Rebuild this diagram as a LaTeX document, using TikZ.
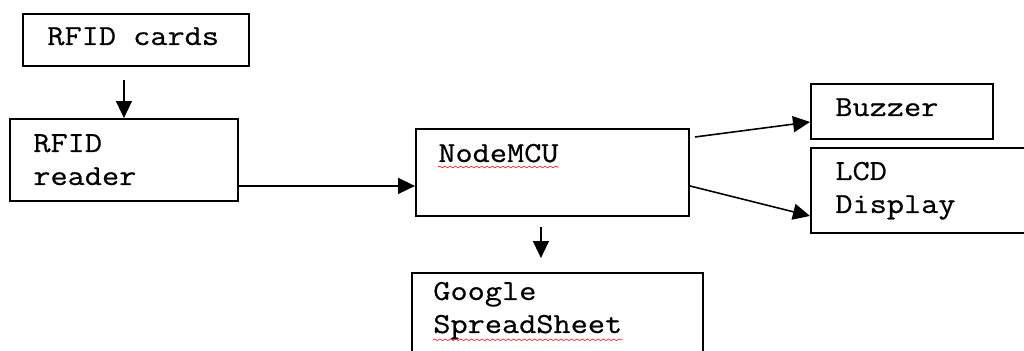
\documentclass[tikz,border=0pt]{standalone}
\usepackage{fontspec}
\setmonofont[FakeStretch=1.15, FakeBold=0.6]{Latin Modern Mono}
\usetikzlibrary{arrows.meta,decorations.pathmorphing}

\tikzset{
  blk/.style={draw, line width=1.1pt, inner sep=0pt, anchor=north west},
  txt/.style={font=\ttfamily\fontsize{16.5}{18.8}\selectfont, inner sep=0pt, align=left, anchor=base west},
  arr/.style={line width=0.9pt, -{Triangle[length=0.34cm, width=0.32cm]}},
  squiggle/.style={red!85, line width=0.4pt, decorate,
    decoration={snake, amplitude=0.45pt, segment length=3pt}}
}

\begin{document}
\begin{tikzpicture}[x=0.02cm, y=-0.02cm]
  \useasboundingbox (0,0) rectangle (1024,351);
  \clip (0,0) rectangle (1024,351);
  % boxes
  \node[blk, minimum width=4.52cm, minimum height=1.04cm] (cards) at (22,13) {};
  \node[blk, minimum width=4.56cm, minimum height=1.64cm] (reader) at (9,118) {};
  \node[blk, minimum width=5.46cm, minimum height=1.74cm] (mcu) at (415,128) {};
  \node[blk, minimum width=5.82cm, minimum height=2.2cm] (sheet) at (411,272) {};
  \node[blk, minimum width=3.64cm, minimum height=1.10cm] (buzzer) at (810,83) {};
  \node[blk, minimum width=4.6cm, minimum height=1.70cm] (lcd) at (810,147) {};
  % texts (base = last line)
  \node[txt] (cardstxt) at ([xshift=0.5cm, yshift=-0.64cm]cards.north west) {RFID cards};
  \node[txt] (readertxt) at ([xshift=0.48cm, yshift=-1.34cm]reader.north west) {RFID\\reader};
  \node[txt] (mcutxt) at ([xshift=0.46cm, yshift=-0.68cm]mcu.north west) {NodeMCU};
  \node[txt] (sheettxt) at ([xshift=0.44cm, yshift=-1.22cm]sheet.north west) {Google\\SpreadSheet};
  \node[txt] (buzzertxt) at ([xshift=0.5cm, yshift=-0.66cm]buzzer.north west) {Buzzer};
  \node[txt] (lcdtxt) at ([xshift=0.5cm, yshift=-1.32cm]lcd.north west) {LCD\\Display};
  % spell check marks
  \draw[squiggle] ([yshift=-0.1cm]mcutxt.base west) -- ([yshift=-0.1cm]mcutxt.base east);
  \draw[squiggle] (sheettxt.south west) -- (sheettxt.south east);
  % arrows
  \draw[arr, shorten <=0.26cm] (reader.north |- cards.south) -- (reader.north);
  \draw[arr] ([yshift=-0.52cm]reader.east) -- ([yshift=-0.52cm]reader.east -| mcu.west);
  \draw[arr, shorten <=0.2cm, shorten >=0.28cm] ([xshift=-0.23cm]mcu.south) -- ([xshift=-0.23cm]mcu.south |- sheet.north);
  \draw[arr] ([shift={(0.1cm,-0.18cm)}]mcu.north east) -- ([yshift=-0.21cm]buzzer.west);
  \draw[arr] ([yshift=-0.27cm]mcu.east) -- ([yshift=-0.51cm]lcd.west);
\end{tikzpicture}
\end{document}
